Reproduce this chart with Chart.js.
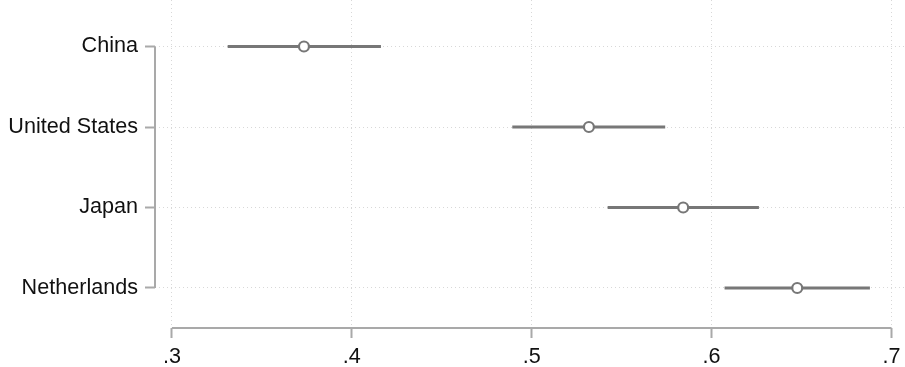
<!DOCTYPE html>
<html>
<head>
<meta charset="utf-8">
<script src="https://cdn.jsdelivr.net/npm/chart.js@4"></script>
<style>
  html, body { margin: 0; padding: 0; background: #fff; }
  #wrap { width: 905px; height: 367px; position: relative; }
</style>
</head>
<body>
<div id="wrap"><canvas id="grafico"></canvas></div>
<script>
// ---------------- DADOS ----------------
const paises = ["China", "United States", "Japan", "Netherlands"];
const estimativa = [0.3734, 0.5318, 0.5842, 0.6476];
const limiteInf = [0.331, 0.4892, 0.5422, 0.6072];
const limiteSup = [0.4162, 0.5742, 0.6263, 0.688];
const ticksX = [0.3, 0.4, 0.5, 0.6, 0.7];

const cinza = "#777777";
const eixo = "#a9a9a9";
const fonte = { family: "'Liberation Sans', Arial, Helvetica, sans-serif", size: 21.6 };

// intervalos de confianca, uma linha por pais
const intervalos = paises.map((p, i) => ({
  type: "line",
  label: p + " IC",
  data: [{ x: limiteInf[i], y: i }, { x: limiteSup[i], y: i }],
  borderColor: cinza,
  borderWidth: 3,
  pointRadius: 0,
  order: 2
}));

// eixos desenhados so entre o primeiro e o ultimo tick
const linhasEixo = {
  id: "linhasEixo",
  afterDraw(chart) {
    const { ctx, chartArea, scales } = chart;
    ctx.save();
    ctx.strokeStyle = eixo;
    ctx.lineWidth = 2;
    ctx.beginPath();
    ctx.moveTo(chartArea.left, scales.y.getPixelForValue(0));
    ctx.lineTo(chartArea.left, scales.y.getPixelForValue(paises.length - 1));
    ctx.moveTo(scales.x.getPixelForValue(ticksX[0]), chartArea.bottom);
    ctx.lineTo(scales.x.getPixelForValue(ticksX[ticksX.length - 1]), chartArea.bottom);
    ctx.stroke();
    ctx.restore();
  }
};

new Chart(
  document.getElementById("grafico"),
  {
    data: {
      datasets: [
        {
          type: "scatter",
          label: "Estimativa",
          data: estimativa.map((v, i) => ({ x: v, y: i })),
          pointRadius: 5,
          pointBorderWidth: 2.2,
          pointBorderColor: cinza,
          pointBackgroundColor: "#ffffff",
          order: 0
        },
        ...intervalos
      ]
    },

    options: {
      responsive: true,
      maintainAspectRatio: false,
      animation: false,
      layout: { padding: 0, autoPadding: false },

      plugins: {
        legend: { display: false },
        tooltip: { enabled: false }
      },

      scales: {
        x: {
          type: "linear",
          min: 0.2906,
          max: 0.7075,
          afterBuildTicks: s => { s.ticks = ticksX.map(v => ({ value: v })); },
          afterFit: s => {
            s.height = 39;
            s.paddingLeft = 0;
            s.paddingRight = 0;
          },
          ticks: {
            callback: v => String(v.toFixed(1)).replace(/^0/, ""),
            font: fonte,
            color: "#111",
            padding: 6,
            maxRotation: 0
          },
          grid: {
            color: "#d8d8d8",
            lineWidth: 1,
            tickColor: eixo,
            tickLength: 10,
            tickWidth: 2
          },
          border: { display: false, dash: [1, 3] }
        },

        y: {
          type: "linear",
          reverse: true,
          min: -0.578,
          max: 3.497,
          afterBuildTicks: s => { s.ticks = paises.map((p, i) => ({ value: i })); },
          afterFit: s => {
            s.width = 155;
            s.paddingTop = 0;
            s.paddingBottom = 0;
          },
          ticks: {
            callback: v => paises[v],
            font: fonte,
            color: "#111",
            padding: 7
          },
          grid: {
            color: "#d8d8d8",
            lineWidth: 1,
            tickColor: eixo,
            tickLength: 10,
            tickWidth: 2
          },
          border: { display: false, dash: [1, 3] }
        }
      }
    },

    plugins: [linhasEixo]
  }
);
</script>
</body>
</html>
